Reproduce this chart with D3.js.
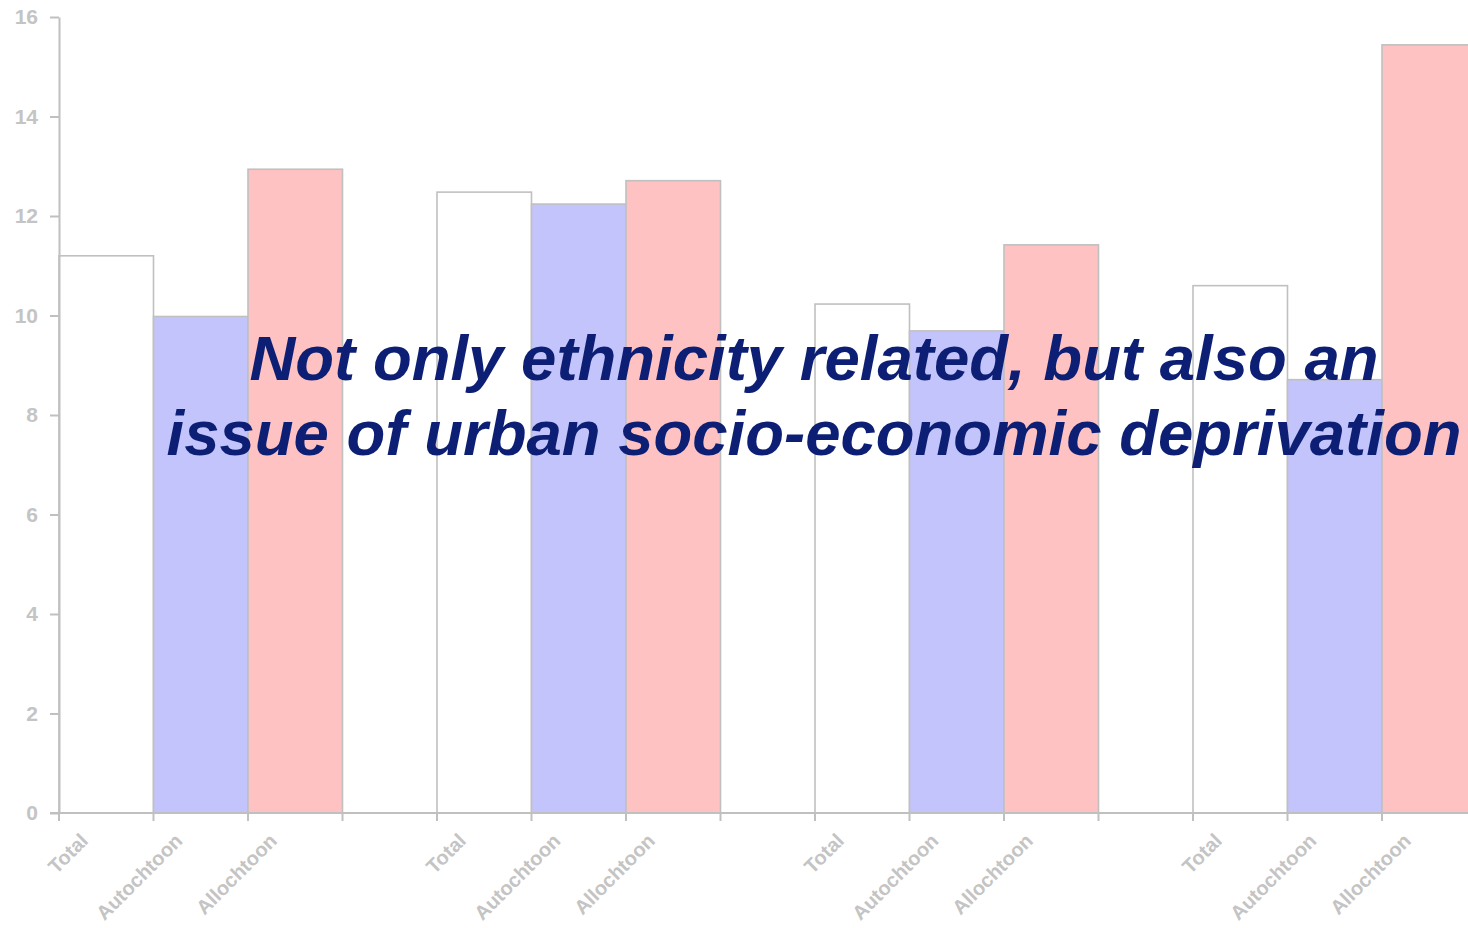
<!DOCTYPE html>
<html>
<head>
<meta charset="utf-8">
<script src="https://cdn.jsdelivr.net/npm/d3@7/dist/d3.min.js"></script>
<style>
  html, body { margin: 0; padding: 0; background: #ffffff; overflow: hidden; }
  svg { display: block; }
</style>
</head>
<body>
<svg id="chart" width="1468" height="928"></svg>
<script>
// Category labels repeated in each of the four groups
const categories = ["Total", "Autochtoon", "Allochtoon"];
const groupCount = 4;

// Series values per group
const totalValues      = [11.2, 12.48, 10.23, 10.6];
const autochtoonValues = [9.98, 12.24, 9.69, 8.71];
const allochtoonValues = [12.94, 12.71, 11.42, 15.44];

// Y axis ticks
const yTicks = [0, 2, 4, 6, 8, 10, 12, 14, 16];

// Overlay statement
const headlineLines = [
  "Not only ethnicity related, but also an",
  "issue of urban socio-economic deprivation"
];

const seriesValues = { "Total": totalValues, "Autochtoon": autochtoonValues, "Allochtoon": allochtoonValues };
const fills = { "Total": "#ffffff", "Autochtoon": "#c4c4fc", "Allochtoon": "#fec2c2" };

const axisGray = "#c0c0c0";
const labelGray = "#c4c4c4";
const svg = d3.select("#chart");

// Each group has three bars and one empty slot
const slots = [];
for (let g = 0; g < groupCount; g++) {
  categories.forEach(c => slots.push({ key: g + "-" + c, group: g, cat: c }));
  slots.push({ key: g + "-gap", group: g, cat: null });
}

const plotLeft = 59, plotBottom = 813, plotTop = 17;
const slotWidth = 94.5;
const x = d3.scaleBand()
  .domain(slots.map(s => s.key))
  .range([plotLeft, plotLeft + slots.length * slotWidth])
  .paddingInner(0).paddingOuter(0);

const y = d3.scaleLinear().domain([0, 16]).range([plotBottom, plotTop]);

const bars = slots.filter(s => s.cat !== null).map(s => ({
  key: s.key, cat: s.cat, value: seriesValues[s.cat][s.group]
}));

// Bars
svg.append("g").selectAll("rect")
  .data(bars)
  .join("rect")
  .attr("x", d => x(d.key))
  .attr("y", d => y(d.value))
  .attr("width", x.bandwidth())
  .attr("height", d => y(0) - y(d.value))
  .attr("fill", d => fills[d.cat])
  .attr("stroke", axisGray)
  .attr("stroke-width", 1.6);

// Y axis
const yAxis = svg.append("g")
  .attr("transform", `translate(${plotLeft},0)`)
  .call(d3.axisLeft(y).tickValues(yTicks).tickSize(9).tickSizeOuter(0).tickPadding(12));
yAxis.select(".domain").attr("stroke", axisGray).attr("stroke-width", 2);
yAxis.selectAll(".tick line").attr("stroke", axisGray).attr("stroke-width", 2);
yAxis.selectAll(".tick text")
  .attr("fill", labelGray)
  .attr("font-family", "'Liberation Sans', Arial, sans-serif")
  .attr("font-weight", "bold")
  .attr("font-size", 21);

// X axis line with a tick at every slot boundary
const xAxis = svg.append("g");
xAxis.append("line")
  .attr("x1", plotLeft - 9).attr("x2", 1468)
  .attr("y1", plotBottom).attr("y2", plotBottom)
  .attr("stroke", axisGray).attr("stroke-width", 2);
xAxis.selectAll("line.tick")
  .data(slots)
  .join("line")
  .attr("class", "tick")
  .attr("x1", d => x(d.key)).attr("x2", d => x(d.key))
  .attr("y1", plotBottom).attr("y2", plotBottom + 8)
  .attr("stroke", axisGray).attr("stroke-width", 2);

// Rotated category labels
xAxis.selectAll("text")
  .data(bars)
  .join("text")
  .attr("transform", d => `translate(${x(d.key) + x.bandwidth() / 2 - 17},${plotBottom + 29}) rotate(-45)`)
  .attr("text-anchor", "end")
  .attr("fill", labelGray)
  .attr("font-family", "'Liberation Sans', Arial, sans-serif")
  .attr("font-weight", "bold")
  .attr("font-size", 20)
  .text(d => d.cat);

// Overlay statement
svg.append("text")
  .attr("x", 814)
  .attr("y", 380)
  .attr("text-anchor", "middle")
  .attr("fill", "#0d1f74")
  .attr("font-family", "'Liberation Sans', Arial, sans-serif")
  .attr("font-weight", "bold")
  .attr("font-style", "italic")
  .attr("font-size", 63.5)
  .selectAll("tspan")
  .data(headlineLines)
  .join("tspan")
  .attr("x", 814)
  .attr("dy", (d, i) => i === 0 ? 0 : 75)
  .text(d => d);
</script>
</body>
</html>
